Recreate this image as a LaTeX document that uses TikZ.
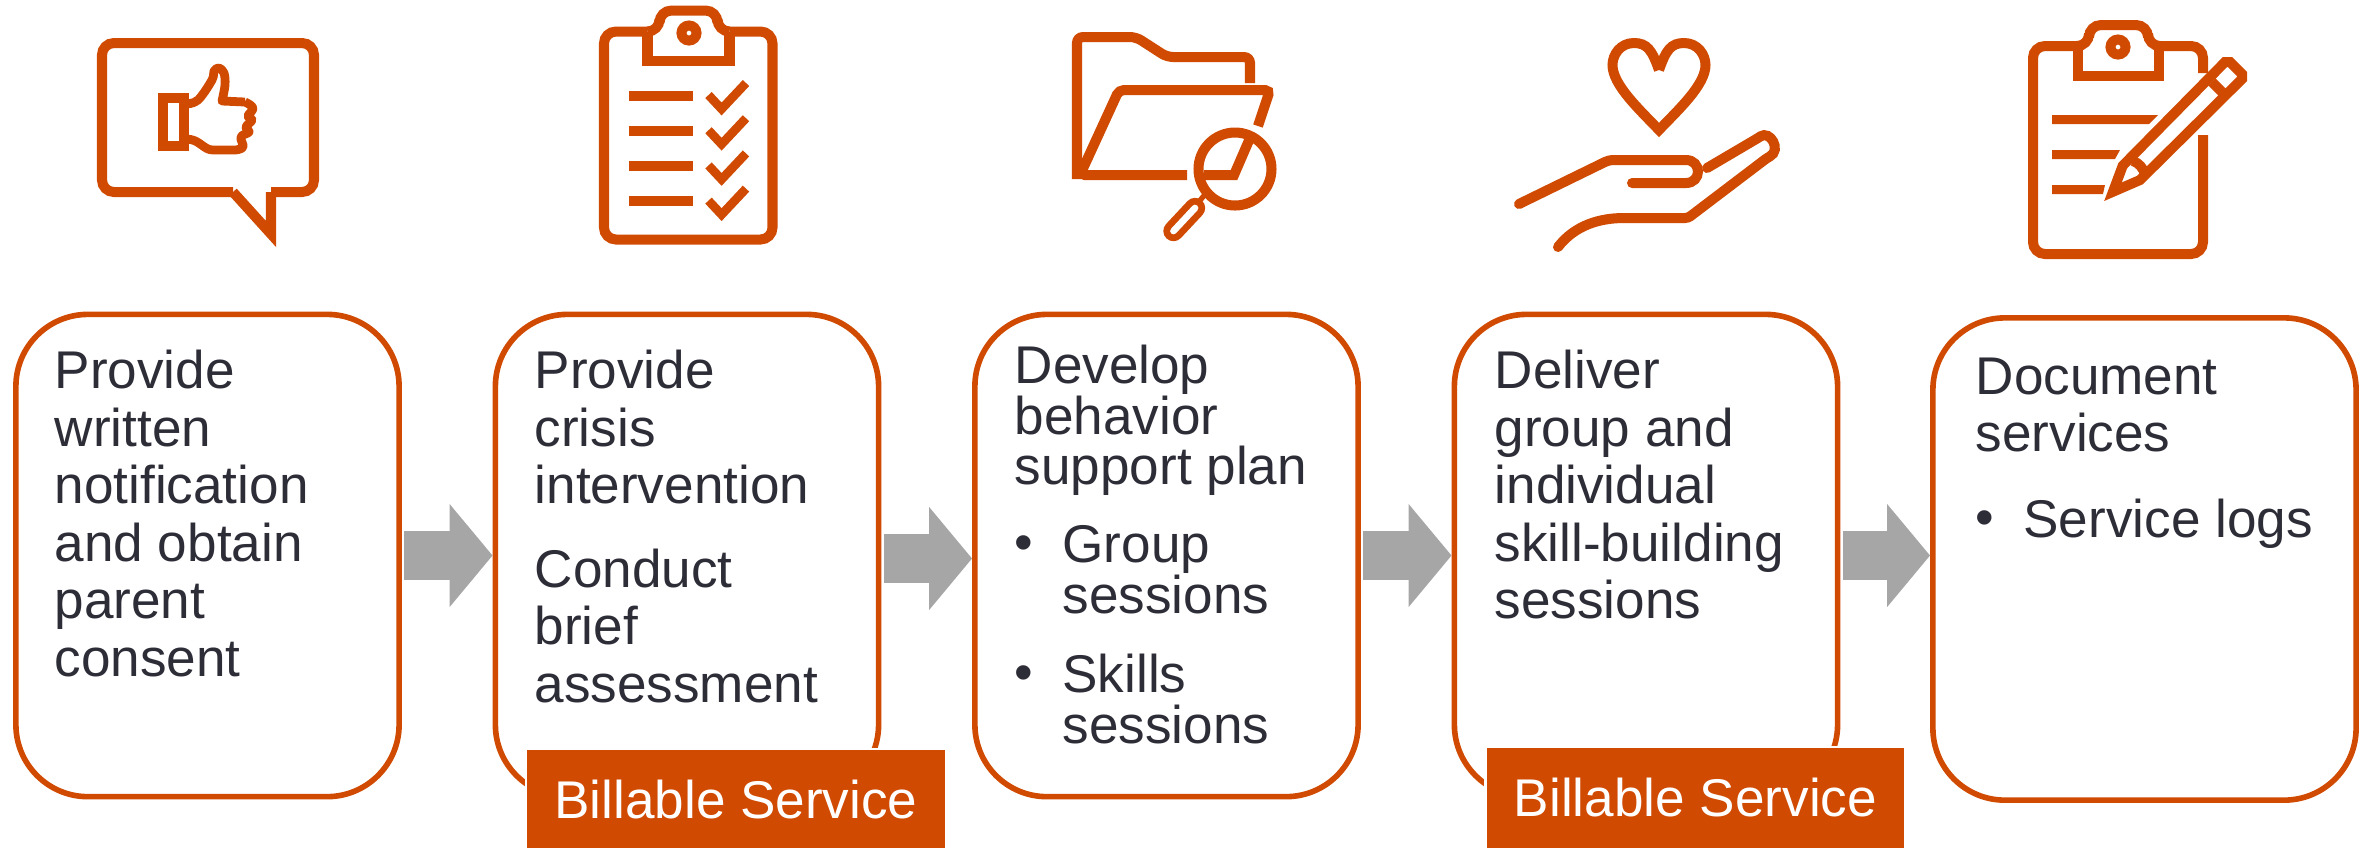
\documentclass[tikz,border=0pt]{standalone}
\usepackage{fontspec}
\setmainfont{Liberation Sans}
\usetikzlibrary{arrows.meta,positioning}
\definecolor{pwc}{HTML}{D04A02}
\definecolor{ink}{HTML}{2D2D38}
\definecolor{flow}{HTML}{A6A6A6}
\newcommand{\bul}{\makebox[13.6pt][l]{\raisebox{.6pt}{\textbullet}}}
\newcommand{\bulgap}{\hspace*{13.6pt}}
\tikzset{
    %Define style for boxes
    stepbox/.style={
   	rectangle,
   	rounded corners=.72cm,
   	draw=pwc, line width=1.6pt,
   	minimum width=3.83cm,
   	minimum height=4.82cm
   },
   steptext/.style={
   	anchor=north west,
   	align=left,
   	inner sep=0pt,
   	text=ink,
   	font=\fontsize{15.1}{16.36}\selectfont
   },
   tighttext/.style={
   	steptext,
   	font=\fontsize{15.1}{14.45}\selectfont
   },
   billbox/.style={
   	rectangle,
   	draw=white, line width=.7pt,
   	fill=pwc,
   	minimum width=4.2cm,
   	minimum height=1.2cm
   },
   billtext/.style={
   	text=white,
   	font=\fontsize{15.1}{18}\selectfont
   },
    % Define arrow style
    pil/.style={
           -{Triangle[length=12.2pt,width=28.6pt]},
           draw=flow, fill=flow,
           line width=14.2pt,
           shorten <=.7pt},
    % Define styles for icons
    icon/.style={draw=pwc, line width=2.85pt, line join=miter},
    iconfill/.style={fill=pwc, draw=none}
}
\begin{document}
\begin{tikzpicture}[x=.01cm,y=-.01cm]
		\useasboundingbox (0,0) rectangle (2374,847);
		% boxes
		\node[stepbox](b1) at (207.5,555.5){};
		\node[stepbox](b2) at (687,555.5){};
		\node[stepbox](b3) at (1166.5,555.5){};
		\node[stepbox](b4) at (1646,555.5){};
		\node[stepbox, minimum width=4.23cm](b5) at (2144.5,559){};
		% texts
		\node[steptext](t1) at (54,349.5){Provide\\written\\notification\\and obtain\\parent\\consent};
		\node[steptext](t2) at (534,349.5){Provide\\crisis\\intervention};
		\node[steptext](t2b) at (534,548){Conduct\\brief\\assessment};
		\node[tighttext](t3) at (1014,344){Develop\\behavior\\support plan};
		\node[tighttext](t3b) at (1014,525){\bul Group\\\bulgap sessions};
		\node[tighttext](t3c) at (1014,653){\bul Skills\\\bulgap sessions};
		\node[steptext](t4) at (1494,349.5){Deliver\\group and\\individual\\skill-building\\sessions};
		\node[steptext](t5) at (1975,357){Document\\services};
		\node[steptext](t5b) at (1975,498){\bul Service logs};
		% billable labels
		\node[billbox](s1) at (736,809){};
		\node[billbox](s2) at (1695.5,807){};
		\node[billtext](l1) at (736,799.5){Billable Service};
		\node[billtext](l2) at (1695.5,797.5){Billable Service};
		% arrows
		\draw[pil] (b1.east) -- (b2.west);
		\draw[pil] ([yshift=-.85pt]b2.east) -- ([yshift=-.85pt]b3.west);
		\draw[pil] (b3.east) -- (b4.west);
		\draw[pil] (b4.east) -- (b5.west |- b4.east);
		% speech bubble
		\draw[icon, rounded corners=3.4pt] (233,192) -- (102,192) -- (102,43) -- (314,43) -- (314,192) -- (271,192);
		\draw[icon] (233,192) -- (271,234) -- (271,192);
		\draw[draw=pwc, line width=2.7pt] (163,98) rectangle (184,146);
		\draw[draw=pwc, line width=2.5pt, line join=round] plot[smooth, tension=.6] coordinates {(186,104) (198,100) (212,80) (214,71) (219,68) (224,73) (225,85) (222,101)} -- (245,102)
			plot[smooth, tension=.7] coordinates {(245,102) (253,108) (248,116) (252,120) (246,127) (249,132) (241,137) (243,147) (235,150)} -- (213,150)
			.. controls (203,150) and (200,139) .. (186,139);
		% first clipboard
		\draw[icon, rounded corners=3.4pt] (647.5,31.5) -- (604,31.5) -- (604,239.5) -- (772.5,239.5) -- (772.5,31.5) -- (729.5,31.5);
		\draw[icon] (647.5,31.5) -- (647.5,61) -- (729.5,61) -- (729.5,31.5);
		\draw[icon, rounded corners=3.4pt] (647.5,31.5) -- (659.5,31.5) -- (659.5,10.5) -- (717.5,10.5) -- (717.5,31.5) -- (729.5,31.5);
		\draw[icon] (689,33) circle [radius=7.5];
		\foreach \row in {0,35.2,70.4,105.6}{
			\draw[icon] (628.5,95.5+\row) -- (693,95.5+\row);
			\draw[icon, line width=2.5pt] (708.5,95+\row) -- (721.6,109+\row) -- (746,83+\row);
		}
		% folder and lens
		\draw[icon, rounded corners=1.7pt] (1077,179) -- (1077,37) -- (1136,37) -- (1167,57) -- (1250,57) -- (1250,83);
		\draw[icon, rounded corners=1.4pt] (1187,175) -- (1080,175) -- (1119,90) -- (1270,90) -- (1258,126);
		\draw[icon] (1204,175) -- (1234,175) -- (1250,138);
		\draw[icon] (1235,169) circle [radius=36.5];
		\draw[pwc, line width=5.8pt, line cap=round] (1173.5,231) -- (1195,208);
		\draw[white, line width=1.9pt, line cap=round] (1173.5,231) -- (1195,208);
		\draw[pwc, line width=1.5pt] (1197,204) -- (1207,192);
		% heart and hand
		\draw[icon, line join=miter] (1659,70) .. controls (1652,50) and (1647,43) .. (1634,43)
			.. controls (1620,43) and (1612.5,55) .. (1612.5,65)
			.. controls (1612.5,85) and (1640,110) .. (1659,130)
			.. controls (1678,110) and (1705.5,85) .. (1705.5,65)
			.. controls (1705.5,55) and (1698,43) .. (1684,43)
			.. controls (1671,43) and (1666,50) .. (1659,70);
		\draw[icon, line cap=round, rounded corners=1.1pt] (1519,204) -- (1609,160) -- (1682,160)
			.. controls (1702,160) and (1702,183) .. (1682,183) -- (1632,183);
		\draw[icon, line cap=round, rounded corners=.85pt] (1707,168) -- (1758,138)
			.. controls (1770,130) and (1782,150) .. (1767,158) -- (1688,218) -- (1627,218)
			.. controls (1600,218) and (1575,225) .. (1558,247);
		% second clipboard and pencil
		\draw[icon, rounded corners=3.4pt] (2203,73) -- (2203,46) -- (2159,46);
		\draw[icon, rounded corners=3.4pt] (2077.5,46) -- (2033,46) -- (2033,254) -- (2203,254) -- (2203,135);
		\draw[icon] (2077.5,46) -- (2077.5,76) -- (2159,76) -- (2159,46);
		\draw[icon, rounded corners=3.4pt] (2077.5,46) -- (2089,46) -- (2089,25) -- (2148,25) -- (2148,46) -- (2159,46);
		\draw[icon] (2118,47) circle [radius=7.5];
		\fill[iconfill] (2052,115) -- (2158,115) -- (2149,124) -- (2052,124) -- cycle;
		\fill[iconfill] (2052,150) -- (2120,150) -- (2115,159) -- (2052,159) -- cycle;
		\fill[iconfill] (2052,185) -- (2105,185) -- (2103,194) -- (2052,194) -- cycle;
		\draw[icon] (2113,191.7) -- (2122.7,165.7) -- (2225,62) -- (2230,62) -- (2242,74) -- (2242,79) -- (2140,180) -- cycle;
		\draw[icon] (2212,82) -- (2226,96);
		\draw[icon] (2133,161) .. controls (2139,163) and (2143,168) .. (2145,174);
\end{tikzpicture}
\end{document}
